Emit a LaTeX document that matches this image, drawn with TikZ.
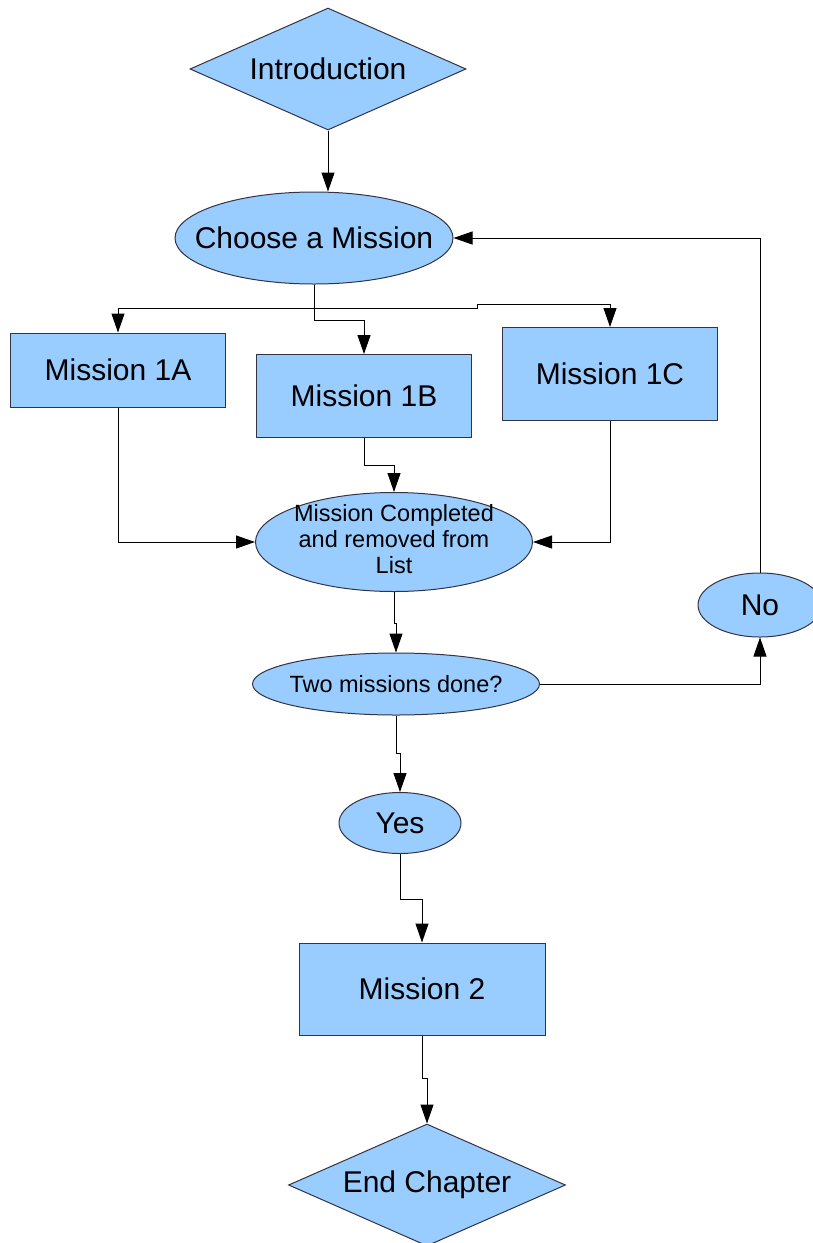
\documentclass[tikz,border=0pt]{standalone}
\usepackage{fontspec}
\setmainfont{Liberation Sans}
\usetikzlibrary{arrows.meta,shapes.geometric}

\definecolor{missionblue}{HTML}{99CCFF}
\definecolor{edgegray}{HTML}{333344}
\newcommand{\ovaltext}[1]{\makebox[0pt]{#1}}

\begin{document}
\begin{tikzpicture}[x=1pt, y=1pt, line width=1pt,
  box/.style={rectangle, draw=edgegray, fill=missionblue, inner sep=0pt, font=\fontsize{30}{36}\selectfont},
  oval/.style={ellipse, draw=edgegray, fill=missionblue, inner sep=0pt, font=\fontsize{30}{36}\selectfont},
  gem/.style={diamond, draw=edgegray, fill=missionblue, inner sep=0pt, shape aspect=2.3, font=\fontsize{30}{36}\selectfont},
  small/.style={font=\fontsize{23.5}{26}\selectfont},
  link/.style={-{Triangle[length=19pt, width=13pt]}}]

  \useasboundingbox (0,0) rectangle (813,-1243);

  \node[gem, minimum width=276pt, minimum height=122pt] at (328,-69) (intro) {Introduction};
  \node[oval, minimum width=278pt, minimum height=92pt, below of = intro, node distance = 169pt, xshift = -14pt]
  (choose) {\ovaltext{Choose a Mission}};

  \node[box, minimum width=215pt, minimum height=74pt, below of = choose, node distance = 132pt, xshift = -196pt] (m1a) {Mission 1A};
  \node[box, minimum width=215pt, minimum height=83pt, below of = choose, node distance = 158pt, xshift = 50pt] (m1b) {Mission 1B};
  \node[box, minimum width=215pt, minimum height=93pt, below of = choose, node distance = 136pt, xshift = 296pt] (m1c) {Mission 1C};

  \node[oval, small, minimum width=277pt, minimum height=99pt, below of = m1b, node distance = 146pt, xshift = 30pt]
  (done) {\ovaltext{\smash{\raisebox{-7pt}{\begin{tabular}{@{}c@{}}Mission Completed\\and removed from\\List\end{tabular}}}}};
  \node[oval, small, minimum width=287pt, minimum height=62pt, below of = done, node distance = 142pt, xshift = 2pt]
  (two) {\ovaltext{Two missions done?}};
  \node[oval, minimum width=124pt, minimum height=64pt, right of = two, node distance = 364pt, yshift = 79pt] (no) {No};
  \node[oval, minimum width=122pt, minimum height=61pt, below of = two, node distance = 139pt, xshift = 4pt] (yes) {Yes};

  \node[box, minimum width=246pt, minimum height=92pt, below of = yes, node distance = 166pt, xshift = 22pt] (m2) {Mission 2};
  \node[gem, minimum width=277pt, minimum height=122pt, below of = m2, node distance = 196pt, xshift = 5pt] (endch) {End Chapter};

  \draw[link] (intro.south) -- (intro.south |- choose.north);

  \draw[link] (choose.south) -- ++(0,-24) -| (m1a.north);
  \draw[link] (choose.south) -- ++(0,-36) -| (m1b.north);
  \draw[link] (choose.south) -- ++(0,-24) -- ++(163,0) -- ++(0,4) -| (m1c.north);

  \draw[link] (m1a.south) |- (done.west);
  \draw[link] (m1b.south) -- ++(0,-27) -| (done.north);
  \draw[link] (m1c.south) |- (done.east);

  \draw[link] (done.south) -- ++(0,-31) -| (two.north);
  \draw[link] (two.east) -| (no.south);
  \draw[link] (no.north) |- (choose.east);
  \draw[link] (two.south) -- ++(0,-38) -| (yes.north);

  \draw[link] (yes.south) -- ++(0,-45) -| (m2.north);
  \draw[link] (m2.south) -- ++(0,-43) -| (endch.north);

\end{tikzpicture}
\end{document}
